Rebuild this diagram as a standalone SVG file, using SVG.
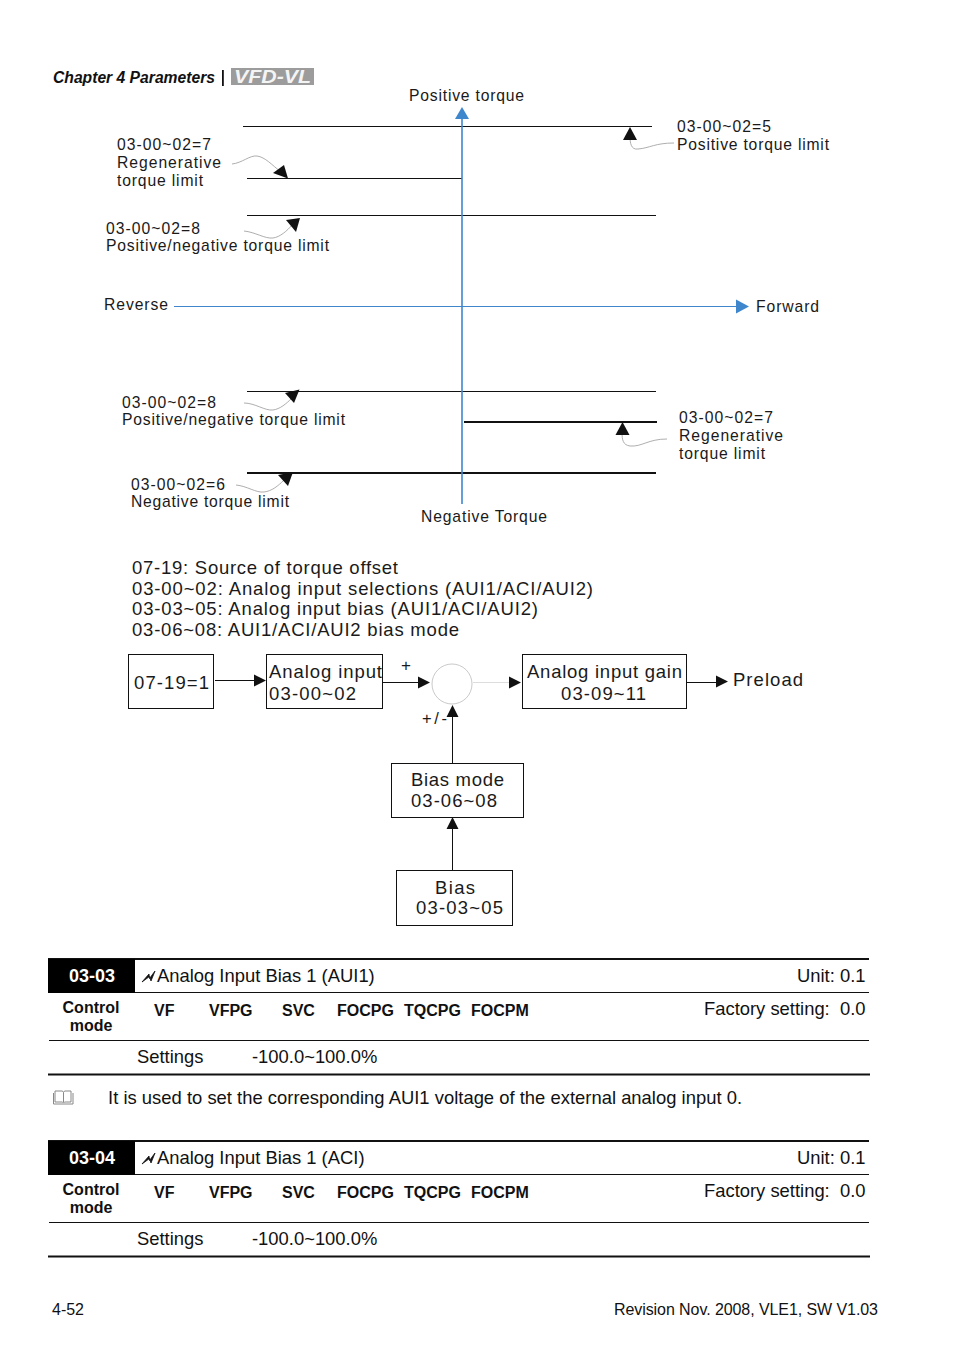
<svg xmlns="http://www.w3.org/2000/svg" width="954" height="1357" viewBox="0 0 954 1357">
<style>
text{font-family:"Liberation Sans",Arial,sans-serif;fill:#1a1a1a}
.d{font-size:15.700px}
.f{font-size:18.500px}
.t{font-size:18.400px;fill:#111}
.b{font-size:16px;font-weight:bold;fill:#111}
.s{font-size:16px;fill:#111}
.k{stroke:#111;stroke-width:1;fill:none}
.h{stroke:#111;stroke-width:2;fill:none}
.c{stroke:#999;stroke-width:.8;fill:none}
.box{fill:#fff;stroke:#111;stroke-width:1}
.a{fill:#111}
</style>
<rect width="954" height="1357" fill="#fff"/>
<g id="header">
<text x="53" y="83" font-size="16" font-weight="bold" font-style="italic" style="fill:#111" textLength="162" lengthAdjust="spacingAndGlyphs">Chapter 4 Parameters</text>
<rect x="222" y="70" width="1.800" height="16" fill="#111"/>
<rect x="231" y="68" width="83" height="17" fill="#9c9c9c"/>
<text x="234" y="82.500" font-size="18" font-weight="bold" font-style="italic" style="fill:#f4f4f4" textLength="77" lengthAdjust="spacingAndGlyphs">VFD-VL</text>
</g>
<g id="connectors">
<path class="k" d="M243 126.500H652M247 178.500H462M247 215.500H656M247 391.500H656" />
<path class="k" style="stroke-width:2" d="M464 422H657M247 473H656"/>
<path d="M462 112V504" stroke="#3f87cd" stroke-width="1.600" fill="none"/>
<path d="M174 306.500H740" stroke="#3f87cd" stroke-width="1" fill="none"/>
<path d="M462 107l-7 12h14z" fill="#3f87cd"/>
<path d="M749 306.500l-13-7v14z" fill="#3f87cd"/>
<path class="c" d="M674 143C655 143 650 148 638 149C631 150 630 143 630 136"/>
<path class="a" d="M630 127l-7 13h14z"/>
<path class="c" d="M232 164C242 163 250 155 257 156C265 157 272 165 281 172"/>
<path class="a" d="M288 178.500L273 173L284 165z"/>
<path class="c" d="M244 231C255 232 265 239 273 238C280 237 287 231 292 225"/>
<path class="a" d="M300 218L286 220L296 232z"/>
<path class="c" d="M244 403C255 403 265 411 273 410C280 409 286 404 292 398"/>
<path class="a" d="M299.500 389.500L285 393L294 403z"/>
<path class="c" d="M236 485C247 486 256 493 264 492C272 491 278 486 284 480"/>
<path class="a" d="M293 472L278 475L288 486z"/>
<path class="c" d="M667 439C648 439 642 447 630 446C623 445 622 440 622 432"/>
<path class="a" d="M622.500 422l-7 13h14z"/>
<path class="k" d="M215 680.500H255M383 682.500H420" />
<path d="M473 682.500H510" stroke="#ddd" fill="none"/>
<path class="k" d="M687 682.500H720M452.500 763V715M452.500 870V826"/>
<path class="a" d="M266 680.500l-12-6v12zM430 682.500l-12-6v12zM521 682.500l-12-6v12zM728 681.500l-12-6v12zM452.500 705l-6 12h12zM452.500 817l-6 12h12z"/>
</g>
<g id="labels-torque">
<text class="d" x="409" y="101" textLength="115">Positive torque</text>
<text class="d" x="677" y="132" textLength="94">03-00~02=5</text>
<text class="d" x="677" y="150" textLength="152">Positive torque limit</text>
<text class="d" x="117" y="150" textLength="94">03-00~02=7</text>
<text class="d" x="117" y="168" textLength="104">Regenerative</text>
<text class="d" x="117" y="186" textLength="86">torque limit</text>
<text class="d" x="106" y="234" textLength="94">03-00~02=8</text>
<text class="d" x="106" y="251" textLength="223">Positive/negative torque limit</text>
<text class="d" x="104" y="310" textLength="64">Reverse</text>
<text class="d" x="756" y="312" textLength="63">Forward</text>
<text class="d" x="122" y="408" textLength="94">03-00~02=8</text>
<text class="d" x="122" y="425" textLength="223">Positive/negative torque limit</text>
<text class="d" x="679" y="423" textLength="94">03-00~02=7</text>
<text class="d" x="679" y="441" textLength="104">Regenerative</text>
<text class="d" x="679" y="459" textLength="86">torque limit</text>
<text class="d" x="131" y="490" textLength="94">03-00~02=6</text>
<text class="d" x="131" y="507" textLength="158">Negative torque limit</text>
<text class="d" x="421" y="522" textLength="126">Negative Torque</text>
</g>
<g id="legend">
<text class="f" x="132" y="574" textLength="266">07-19: Source of torque offset</text>
<text class="f" x="132" y="595" textLength="461">03-00~02: Analog input selections (AUI1/ACI/AUI2)</text>
<text class="f" x="132" y="615" textLength="406">03-03~05: Analog input bias (AUI1/ACI/AUI2)</text>
<text class="f" x="132" y="636" textLength="327">03-06~08: AUI1/ACI/AUI2 bias mode</text>
</g>
<g id="node-0719"><rect class="box" x="128.500" y="654.500" width="85" height="54"/><text class="f" x="134" y="689" textLength="75">07-19=1</text></g>
<g id="node-analog-input"><rect class="box" x="266.500" y="654.500" width="116" height="54"/><text class="f" x="269" y="678" textLength="113">Analog input</text><text class="f" x="269" y="700" textLength="87">03-00~02</text></g>
<g id="node-sum"><circle cx="452" cy="684" r="20" fill="#fff" stroke="#bbb" stroke-width=".8"/><text x="401" y="671" font-size="17">+</text><text x="422" y="724" font-size="16.500" textLength="25">+/-</text></g>
<g id="node-gain"><rect class="box" x="522.500" y="654.500" width="164" height="54"/><text class="f" x="527" y="678" textLength="155">Analog input gain</text><text class="f" x="561" y="700" textLength="85">03-09~11</text></g>
<g id="node-preload"><text class="f" x="733" y="686" textLength="70">Preload</text></g>
<g id="node-bias-mode"><rect class="box" x="391.500" y="763.500" width="132" height="54"/><text class="f" x="411" y="786" textLength="93">Bias mode</text><text class="f" x="411" y="807" textLength="86">03-06~08</text></g>
<g id="node-bias"><rect class="box" x="396.500" y="870.500" width="116" height="55"/><text class="f" x="435" y="894" textLength="40">Bias</text><text class="f" x="416" y="914" textLength="87">03-03~05</text></g>
<g id="table-0303">
<path class="h" d="M48 959H869"/>
<path class="k" d="M134 992.500H869M49 1040.500H869"/>
<path class="h" d="M48 1074.500H870"/>
<rect x="48" y="959" width="87" height="34" fill="#000"/>
<text x="69" y="982" font-size="18" font-weight="bold" style="fill:#fff">03-03</text>
<path d="M142 982L149 974L149.500 978.500L155 971L151 981L149.500 976.500Z" fill="#111" stroke="#111" stroke-width=".8"/>
<text class="t" x="157" y="982">Analog Input Bias 1 (AUI1)</text>
<text class="t" x="797" y="982">Unit: 0.1</text>
<text class="b" x="91" y="1013" text-anchor="middle">Control</text>
<text class="b" x="91" y="1031" text-anchor="middle">mode</text>
<text class="b" x="154" y="1016">VF</text><text class="b" x="209" y="1016">VFPG</text><text class="b" x="282" y="1016">SVC</text><text class="b" x="337" y="1016">FOCPG</text><text class="b" x="404" y="1016">TQCPG</text><text class="b" x="471" y="1016">FOCPM</text>
<text class="t" x="704" y="1015">Factory setting:</text><text class="t" x="840" y="1015">0.0</text>
<text class="t" x="137" y="1063">Settings</text>
<text class="t" x="252" y="1063">-100.0~100.0%</text>
</g>
<g id="note">
<path d="M55 1091H62Q63 1091 63.500 1092.500Q64 1091 65 1091H71V1102H64.500L63.500 1103L62.500 1102H55ZM63.500 1092.500V1102M53.500 1093V1104H73V1093" fill="none" stroke="#888" stroke-width="1"/>
<text class="t" x="108" y="1104" textLength="634">It is used to set the corresponding AUI1 voltage of the external analog input 0.</text>
</g>
<g id="table-0304">
<path class="h" d="M48 1141H869"/>
<path class="k" d="M134 1174.500H869M49 1222.500H869"/>
<path class="h" d="M48 1256.500H870"/>
<rect x="48" y="1141" width="87" height="34" fill="#000"/>
<text x="69" y="1164" font-size="18" font-weight="bold" style="fill:#fff">03-04</text>
<path d="M142 1164L149 1156L149.500 1160.500L155 1153L151 1163L149.500 1158.500Z" fill="#111" stroke="#111" stroke-width=".8"/>
<text class="t" x="157" y="1164">Analog Input Bias 1 (ACI)</text>
<text class="t" x="797" y="1164">Unit: 0.1</text>
<text class="b" x="91" y="1195" text-anchor="middle">Control</text>
<text class="b" x="91" y="1213" text-anchor="middle">mode</text>
<text class="b" x="154" y="1198">VF</text><text class="b" x="209" y="1198">VFPG</text><text class="b" x="282" y="1198">SVC</text><text class="b" x="337" y="1198">FOCPG</text><text class="b" x="404" y="1198">TQCPG</text><text class="b" x="471" y="1198">FOCPM</text>
<text class="t" x="704" y="1197">Factory setting:</text><text class="t" x="840" y="1197">0.0</text>
<text class="t" x="137" y="1245">Settings</text>
<text class="t" x="252" y="1245">-100.0~100.0%</text>
</g>
<g id="footer">
<text class="s" x="52" y="1315" textLength="32">4-52</text>
<text class="s" x="614" y="1315" textLength="264">Revision Nov. 2008, VLE1, SW V1.03</text>
</g>
</svg>
